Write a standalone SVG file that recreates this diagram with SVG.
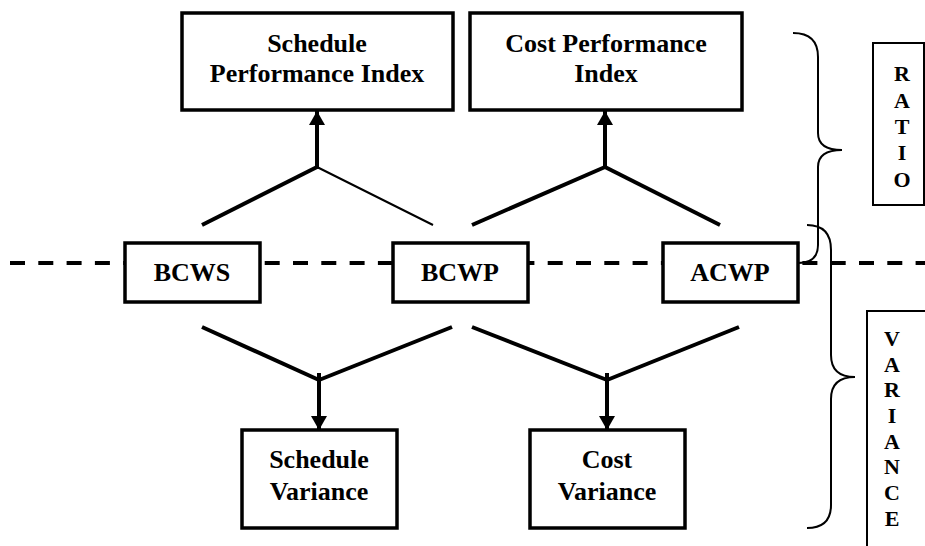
<svg xmlns="http://www.w3.org/2000/svg" width="925" height="546" viewBox="0 0 925 546">
<style>
.box{fill:#fff;stroke:#000;stroke-width:3.5}
.side{fill:#fff;stroke:#000;stroke-width:2}
.t{font-family:"Liberation Serif","Times New Roman",serif;font-weight:bold;font-size:26px;text-anchor:middle;fill:#000}
.l{font-family:"Liberation Serif","Times New Roman",serif;font-weight:bold;font-size:22px;text-anchor:middle;fill:#000}
.c{stroke:#000;stroke-width:4;fill:none}
.thin{stroke:#000;stroke-width:2;fill:none}
.brace{stroke:#000;stroke-width:2;fill:none}
.dash{stroke:#000;stroke-width:4;stroke-dasharray:15 13.3;fill:none}
</style>
<defs>
<marker id="arr" markerUnits="userSpaceOnUse" markerWidth="14" markerHeight="16" refX="14" refY="8" orient="auto">
<path d="M0,0 L14,8 L0,16 z" fill="#000"/>
</marker>
</defs>
<g id="divider">
<line class="dash" x1="10" y1="263" x2="925" y2="263"/>
</g>
<g id="connectors">
<line class="c" x1="202" y1="225" x2="317" y2="167"/>
<line class="thin" x1="433" y1="225" x2="317" y2="167"/>
<line class="c" x1="317" y1="169" x2="317" y2="111" marker-end="url(#arr)"/>
<line class="c" x1="472" y1="225" x2="605" y2="167"/>
<line class="c" x1="720" y1="225" x2="605" y2="167"/>
<line class="c" x1="605" y1="169" x2="605" y2="111" marker-end="url(#arr)"/>
<line class="c" x1="202" y1="327" x2="319" y2="380"/>
<line class="c" x1="452" y1="327" x2="319" y2="380"/>
<line class="c" x1="319" y1="373" x2="319" y2="430" marker-end="url(#arr)"/>
<line class="c" x1="472" y1="327" x2="607" y2="380"/>
<line class="c" x1="739" y1="327" x2="607" y2="380"/>
<line class="c" x1="607" y1="373" x2="607" y2="430" marker-end="url(#arr)"/>
</g>
<g id="spi">
<rect class="box" x="182" y="13" width="271" height="97"/>
<text class="t" x="317" y="52">Schedule</text>
<text class="t" x="317" y="82">Performance Index</text>
</g>
<g id="cpi">
<rect class="box" x="470" y="13" width="272" height="97"/>
<text class="t" x="606" y="52">Cost Performance</text>
<text class="t" x="606" y="82">Index</text>
</g>
<g id="bcws">
<rect class="box" x="125" y="243" width="135" height="59"/>
<text class="t" x="192" y="281">BCWS</text>
</g>
<g id="bcwp">
<rect class="box" x="393" y="243" width="135" height="59"/>
<text class="t" x="460" y="281">BCWP</text>
</g>
<g id="acwp">
<rect class="box" x="663" y="243" width="135" height="59"/>
<text class="t" x="730" y="281">ACWP</text>
</g>
<g id="sv">
<rect class="box" x="242" y="430" width="155" height="98"/>
<text class="t" x="319" y="468">Schedule</text>
<text class="t" x="319" y="500">Variance</text>
</g>
<g id="cv">
<rect class="box" x="530" y="430" width="155" height="98"/>
<text class="t" x="607" y="468">Cost</text>
<text class="t" x="607" y="500">Variance</text>
</g>
<g id="ratio-brace">
<path class="brace" d="M793 33 Q818 33 818 57 L818 133 Q818 150 842 150 Q818 150 818 167 L818 245 Q818 263 798 263"/>
</g>
<g id="variance-brace">
<path class="brace" d="M807 225 Q831 225 831 250 L831 355 Q831 377 855 377 Q831 377 831 399 L831 505 Q831 528 807 528"/>
</g>
<g id="ratio">
<rect class="side" x="873" y="43" width="51" height="162"/>
<text class="l" x="902" y="81">R</text>
<text class="l" x="902" y="108">A</text>
<text class="l" x="902" y="134">T</text>
<text class="l" x="902" y="160">I</text>
<text class="l" x="902" y="187">O</text>
</g>
<g id="variance">
<rect class="side" x="867" y="311" width="70" height="250"/>
<text class="l" x="892" y="346">V</text>
<text class="l" x="892" y="372">A</text>
<text class="l" x="892" y="397">R</text>
<text class="l" x="892" y="423">I</text>
<text class="l" x="892" y="449">A</text>
<text class="l" x="892" y="474">N</text>
<text class="l" x="892" y="500">C</text>
<text class="l" x="892" y="526">E</text>
</g>
</svg>
